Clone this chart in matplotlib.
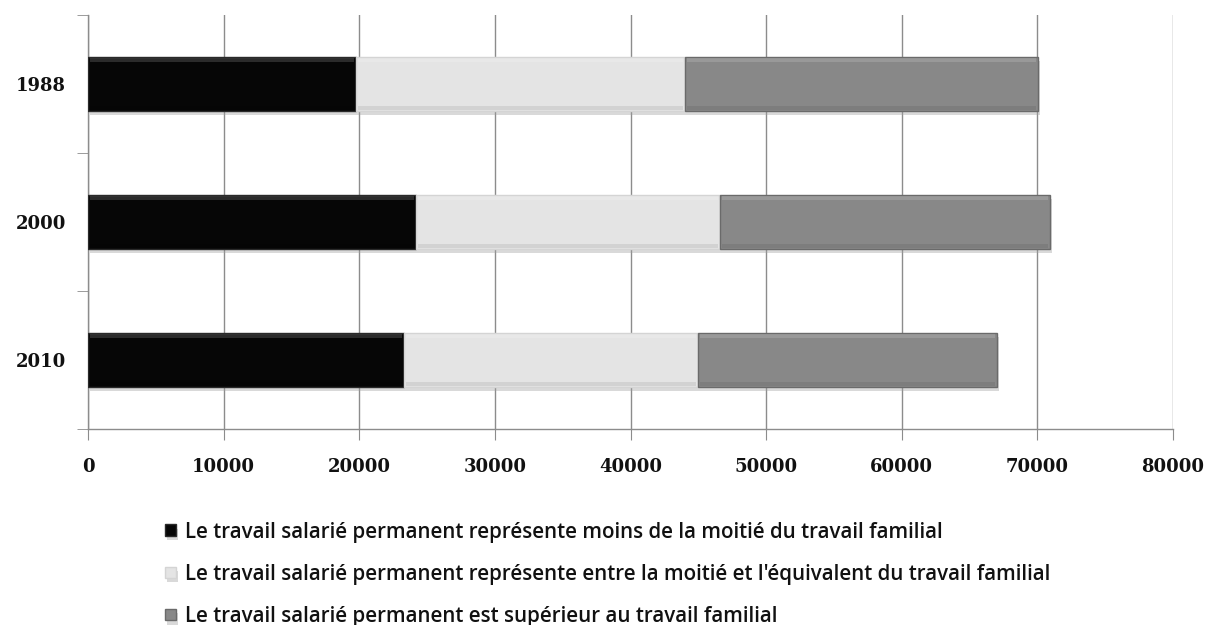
import matplotlib
matplotlib.use("Agg")
import matplotlib.pyplot as plt
import matplotlib.patheffects as pe
import numpy as np

years = ["1988", "2000", "2010"]
moins_moitie = [19750, 24200, 23300]
entre_moitie_equivalent = [24300, 22400, 21700]
superieur = [26000, 24300, 22050]

series_labels = [
    "Le travail salarié permanent représente moins de la moitié du travail familial",
    "Le travail salarié permanent représente entre la moitié et l'équivalent du travail familial",
    "Le travail salarié permanent est supérieur au travail familial",
]
colors = ["#060606", "#e4e4e4", "#888888"]
edge_colors = ["#2a2a2a", "#d4d4d4", "#6a6a6a"]
xticks = [0, 10000, 20000, 30000, 40000, 50000, 60000, 70000, 80000]

fig = plt.figure(figsize=(12.09, 6.25), dpi=100)
ax = fig.add_axes([88 / 1209, 1 - 429 / 625, (1173 - 88) / 1209, (429 - 15) / 625])

ypos = np.arange(len(years))
left = np.zeros(len(years))
shadow = [pe.SimplePatchShadow(offset=(1.5, -3), shadow_rgbFace="#a0a0a0", alpha=0.4), pe.Normal()]
handles = []
for vals, col, ec, lab in zip([moins_moitie, entre_moitie_equivalent, superieur], colors, edge_colors, series_labels):
    bars = ax.barh(ypos, vals, left=left, height=0.39, color=col, edgecolor=ec,
                   linewidth=1.0, label=lab, zorder=3)
    for b in bars:
        b.set_path_effects(shadow)
        # soft bevel: lighter band on top, darker band at the bottom
        x0, y0 = b.get_x(), b.get_y()
        w, h = b.get_width(), b.get_height()
        ax.add_patch(plt.Rectangle((x0 + 150, y0 + 0.008), w - 300, 0.03,
                                   facecolor="white", alpha=0.15, linewidth=0, zorder=4))
        ax.add_patch(plt.Rectangle((x0 + 150, y0 + h - 0.035), w - 300, 0.028,
                                   facecolor="black", alpha=0.08, linewidth=0, zorder=4))
    handles.append(bars)
    left = left + np.array(vals)

ax.set_xlim(0, 80000)
ax.set_ylim(len(years) - 0.5, -0.5)
ax.set_xticks(xticks)
ax.set_xticklabels([str(t) for t in xticks])
ax.set_yticks(ypos)
ax.set_yticklabels(years)
ax.set_yticks(np.arange(-0.5, len(years), 1.0), minor=True)

ax.grid(axis="x", color="#8c8c8c", linewidth=1.0, zorder=0)
ax.set_axisbelow(True)
for s in ["top", "right"]:
    ax.spines[s].set_visible(False)
for s in ["left", "bottom"]:
    ax.spines[s].set_color("#8c8c8c")
    ax.spines[s].set_linewidth(1.0)

ax.tick_params(axis="x", which="major", length=8, color="#8c8c8c", pad=13)
ax.tick_params(axis="y", which="major", length=0, pad=16)
ax.tick_params(axis="y", which="minor", length=8, color="#8c8c8c")
for lbl in ax.get_xticklabels() + ax.get_yticklabels():
    lbl.set_fontfamily("DejaVu Serif")
    lbl.set_fontweight("bold")
    lbl.set_fontsize(13)
    lbl.set_color("#111111")

leg = fig.legend(handles=[h[0] for h in handles], labels=series_labels,
                 loc="lower left", bbox_to_anchor=(151 / 1209, -0.026), frameon=False,
                 prop=dict(family="Open Sans", weight="semibold", size=14.8),
                 handlelength=0.5, handleheight=0.5, handletextpad=0.45,
                 labelspacing=1.03, borderpad=0.2)
for t in leg.get_texts():
    t.set_color("#111111")

fig.savefig("out.png", dpi=100, facecolor="white")
